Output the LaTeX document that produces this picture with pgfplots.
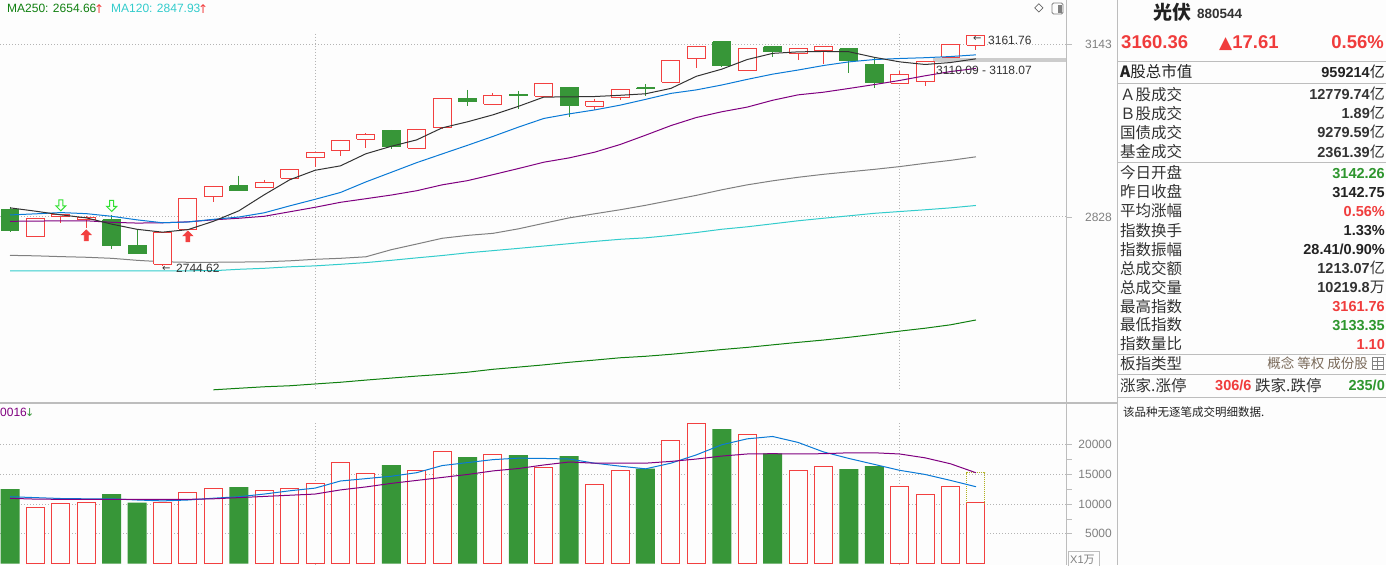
\documentclass[border=0pt]{standalone}
\usepackage{fontspec}
\setmainfont{Liberation Sans}
\newfontfamily\cjk{Noto Sans CJK SC}
\newfontfamily\dvs{DejaVu Sans}
\usepackage{pgfplots}
\pgfplotsset{compat=1.18}

\definecolor{bg}{HTML}{FDFDFD}
\definecolor{upc}{HTML}{F24040}
\definecolor{dnc}{HTML}{379638}
\definecolor{ma5}{HTML}{333333}
\definecolor{ma10}{HTML}{0A7AD6}
\definecolor{ma20}{HTML}{800080}
\definecolor{ma60}{HTML}{808080}
\definecolor{ma120}{HTML}{33CCCC}
\definecolor{ma250}{HTML}{108010}
\definecolor{gridc}{HTML}{B4B4B4}
\definecolor{framec}{HTML}{BDBDBD}
\definecolor{txt}{HTML}{333333}
\definecolor{txtb}{HTML}{222222}
\definecolor{valgreen}{HTML}{2E962E}
\definecolor{valred}{HTML}{F03C3C}
\definecolor{arrowgreen}{HTML}{33E033}
\definecolor{tagc}{HTML}{7A6A5A}
\definecolor{olivec}{HTML}{B0B020}

\pgfdeclareplotmark{upblock}{%
 \pgfpathmoveto{\pgfqpoint{0pt}{5.5pt}}\pgfpathlineto{\pgfqpoint{5pt}{0.5pt}}%
 \pgfpathlineto{\pgfqpoint{2pt}{0.5pt}}\pgfpathlineto{\pgfqpoint{2pt}{-5.5pt}}%
 \pgfpathlineto{\pgfqpoint{-2pt}{-5.5pt}}\pgfpathlineto{\pgfqpoint{-2pt}{0.5pt}}%
 \pgfpathlineto{\pgfqpoint{-5pt}{0.5pt}}\pgfpathclose\pgfusepathqfillstroke}
\pgfdeclareplotmark{downblock}{%
 \pgfpathmoveto{\pgfqpoint{0pt}{-5.5pt}}\pgfpathlineto{\pgfqpoint{5pt}{-0.5pt}}%
 \pgfpathlineto{\pgfqpoint{2pt}{-0.5pt}}\pgfpathlineto{\pgfqpoint{2pt}{5.5pt}}%
 \pgfpathlineto{\pgfqpoint{-2pt}{5.5pt}}\pgfpathlineto{\pgfqpoint{-2pt}{-0.5pt}}%
 \pgfpathlineto{\pgfqpoint{-5pt}{-0.5pt}}\pgfpathclose\pgfusepathqfillstroke}

\newcommand\fs[1]{\fontsize{#1}{#1}\selectfont}
\newcommand\lab[2]{\node[anchor=base west,inner sep=0pt,text=txt,font=\fs{15.5}\cjk] at (1120pt,-#1pt) {#2};}
\newcommand\val[3]{\node[anchor=base east,inner sep=0pt,text=#3,font=\fs{14.5}\bfseries] at (1385pt,-#1pt) {#2};}
\newcommand\yi{{\cjk\mdseries\fs{15}亿}}
\newcommand\wan{{\cjk\mdseries\fs{15}万}}

\begin{document}
\begin{tikzpicture}
\path[use as bounding box, fill=bg] (0pt,0pt) rectangle (1386pt,-565pt);

% ---------------- main price panel ----------------
\begin{axis}[
  at={(0pt,0pt)}, anchor=north west, scale only axis,
  width=1066pt, height=400pt,
  xmin=-0.3934, xmax=41.542,
  ymode=log, ymin=2527.7, ymax=3231.0,
  axis line style={draw=none},
  xtick=\empty,
  ytick={2828,3143}, yticklabels={2828,3143},
  scaled y ticks=false, ytick scale label code/.code={},
  ytick pos=right, yticklabel pos=right,
  tick align=outside, major tick length=6pt,
  ytick style={framec, line width=0.8pt},
  yticklabel style={anchor=east, inner sep=0pt, xshift=40pt, text=ma60, font=\fs{12}},
  ymajorgrids, major grid style={gridc, line width=1pt, dash pattern=on 1pt off 2pt},
]
% price range band
\addplot[fill=gray!40, draw=none] coordinates {(36.3,3110.09)(41.6,3110.09)(41.6,3118.07)(36.3,3118.07)};
% period separators
\addplot[gridc, line width=1pt, dash pattern=on 1pt off 2pt] coordinates {(12,3164)(12,2546)};
\addplot[gridc, line width=1pt, dash pattern=on 1pt off 2pt] coordinates {(35,3164)(35,2546)};
% MA250
\addplot[ma250, line width=1pt] coordinates {(8,2543.3)(9,2545.7)(10,2548.0)(11,2549.6)(12,2552.4)(13,2555.1)(14,2558.5)(15,2561.7)(16,2564.8)(17,2567.6)(18,2570.9)(19,2575.5)(20,2579.0)(21,2582.6)(22,2586.6)(23,2590.1)(24,2593.8)(25,2596.2)(26,2599.3)(27,2603.0)(28,2606.9)(29,2610.4)(30,2614.5)(31,2618.4)(32,2622.2)(33,2626.6)(34,2631.4)(35,2636.6)(36,2641.3)(37,2646.8)(38,2654.66)};
% MA120
\addplot[ma120, line width=1pt] coordinates {(0,2736.0)(1,2736.0)(2,2736.0)(3,2736.0)(4,2736.0)(5,2736.0)(6,2736.0)(7,2736.0)(8,2736.2)(9,2738.5)(10,2740.2)(11,2742.7)(12,2744.4)(13,2746.9)(14,2749.8)(15,2753.7)(16,2757.9)(17,2761.8)(18,2766.4)(19,2770.1)(20,2774.0)(21,2777.9)(22,2782.0)(23,2785.8)(24,2789.4)(25,2792.0)(26,2796.2)(27,2801.1)(28,2806.6)(29,2810.9)(30,2816.1)(31,2821.3)(32,2825.6)(33,2829.9)(34,2834.3)(35,2837.4)(36,2840.4)(37,2843.8)(38,2847.93)};
% MA60
\addplot[ma60, line width=1pt] coordinates {(0,2762.1)(1,2761.3)(2,2760.0)(3,2758.8)(4,2757.1)(5,2753.7)(6,2751.2)(7,2750.3)(8,2750.3)(9,2750.7)(10,2751.2)(11,2752.8)(12,2755.4)(13,2757.1)(14,2759.6)(15,2771.7)(16,2781.4)(17,2791.1)(18,2796.2)(19,2799.7)(20,2807.4)(21,2816.9)(22,2826.4)(23,2833.4)(24,2840.4)(25,2848.2)(26,2857.0)(27,2865.7)(28,2875.4)(29,2884.3)(30,2891.4)(31,2897.6)(32,2902.9)(33,2907.3)(34,2911.8)(35,2916.8)(36,2922.6)(37,2927.9)(38,2934.2)};
% wicks
\addplot[upc, line width=1pt, unbounded coords=jump] coordinates {
(1,2826.3)(1,2794.0)(1,nan)(2,2833.9)(2,2817.3)(2,nan)(3,2829.9)(3,2809.6)(3,nan)
(6,2802.0)(6,2744.62)(6,nan)(7,2861.0)(7,2806.5)(7,nan)(8,2882.2)(8,2854.8)(8,nan)
(10,2893.1)(10,2880.0)(10,nan)(11,2912.5)(11,2895.8)(11,nan)(12,2943.0)(12,2916.8)(12,nan)
(13,2964.8)(13,2934.8)(13,nan)(14,2977.2)(14,2951.0)(14,nan)(16,2985.0)(16,2949.6)(16,nan)
(17,3042.2)(17,2985.1)(17,nan)(19,3051.8)(19,3030.5)(19,nan)(21,3070.3)(21,3045.3)(21,nan)
(23,3040.6)(23,3020.0)(23,nan)(24,3059.0)(24,3039.2)(24,nan)(26,3114.0)(26,3071.6)(26,nan)
(27,3141.0)(27,3098.4)(27,nan)(29,3137.0)(29,3094.3)(29,nan)(31,3137.0)(31,3113.6)(31,nan)
(32,3139.4)(32,3106.6)(32,nan)(35,3093.8)(35,3069.7)(35,nan)(36,3112.0)(36,3064.5)(36,nan)
(37,3143.0)(37,3119.0)(37,nan)(38,3161.76)(38,3133.35)};
\addplot[dnc, line width=1pt, unbounded coords=jump] coordinates {
(0,2845.6)(0,2802.2)(0,nan)(4,2831.6)(4,2772.6)(4,nan)(5,2806.9)(5,2765.5)(5,nan)
(9,2900.8)(9,2872.5)(9,nan)(15,2983.2)(15,2949.2)(15,nan)(18,3057.4)(18,3028.1)(18,nan)
(20,3055.5)(20,3022.5)(20,nan)(22,3062.8)(22,3007.7)(22,nan)(25,3068.1)(25,3045.6)(25,nan)
(28,3149.1)(28,3099.5)(28,nan)(30,3139.4)(30,3119.9)(30,nan)(33,3135.6)(33,3090.0)(33,nan)
(34,3117.4)(34,3060.6)};
% up (hollow red) bodies
\addplot[draw=upc, fill=bg, line width=1pt, unbounded coords=jump] coordinates {
(0.646,2794.2)(1.354,2794.2)(1.354,2825.9)(0.646,2825.9)(0.646,2794.2)(1,nan)
(1.646,2828.7)(2.354,2828.7)(2.354,2831.6)(1.646,2831.6)(1.646,2828.7)(2,nan)
(2.646,2823.5)(3.354,2823.5)(3.354,2827.6)(2.646,2827.6)(2.646,2823.5)(3,nan)
(5.646,2747.3)(6.354,2747.3)(6.354,2801.7)(5.646,2801.7)(5.646,2747.3)(6,nan)
(6.646,2806.9)(7.354,2806.9)(7.354,2860.8)(6.646,2860.8)(6.646,2806.9)(7,nan)
(7.646,2864.3)(8.354,2864.3)(8.354,2882.0)(7.646,2882.0)(7.646,2864.3)(8,nan)
(9.646,2880.2)(10.354,2880.2)(10.354,2887.8)(9.646,2887.8)(9.646,2880.2)(10,nan)
(10.646,2896.1)(11.354,2896.1)(11.354,2912.2)(10.646,2912.2)(10.646,2896.1)(11,nan)
(11.646,2933.7)(12.354,2933.7)(12.354,2942.7)(11.646,2942.7)(11.646,2933.7)(12,nan)
(12.646,2946.3)(13.354,2946.3)(13.354,2964.5)(12.646,2964.5)(12.646,2946.3)(13,nan)
(13.646,2966.3)(14.354,2966.3)(14.354,2975.4)(13.646,2975.4)(13.646,2966.3)(14,nan)
(15.646,2949.9)(16.354,2949.9)(16.354,2984.6)(15.646,2984.6)(15.646,2949.9)(16,nan)
(16.646,2988.2)(17.354,2988.2)(17.354,3041.9)(16.646,3041.9)(16.646,2988.2)(17,nan)
(18.646,3030.7)(19.354,3030.7)(19.354,3047.5)(18.646,3047.5)(18.646,3030.7)(19,nan)
(20.646,3045.6)(21.354,3045.6)(21.354,3070.0)(20.646,3070.0)(20.646,3045.6)(21,nan)
(22.646,3027.0)(23.354,3027.0)(23.354,3036.2)(22.646,3036.2)(22.646,3027.0)(23,nan)
(23.646,3043.7)(24.354,3043.7)(24.354,3058.7)(23.646,3058.7)(23.646,3043.7)(24,nan)
(25.646,3071.9)(26.354,3071.9)(26.354,3113.6)(25.646,3113.6)(25.646,3071.9)(26,nan)
(26.646,3117.4)(27.354,3117.4)(27.354,3140.5)(26.646,3140.5)(26.646,3117.4)(27,nan)
(28.646,3094.6)(29.354,3094.6)(29.354,3136.6)(28.646,3136.6)(28.646,3094.6)(29,nan)
(30.646,3127.0)(31.354,3127.0)(31.354,3136.6)(30.646,3136.6)(30.646,3127.0)(31,nan)
(31.646,3132.0)(32.354,3132.0)(32.354,3139.1)(31.646,3139.1)(31.646,3132.0)(32,nan)
(34.646,3070.0)(35.354,3070.0)(35.354,3087.0)(34.646,3087.0)(34.646,3070.0)(35,nan)
(35.646,3072.5)(36.354,3072.5)(36.354,3111.7)(35.646,3111.7)(35.646,3072.5)(36,nan)
(36.646,3119.3)(37.354,3119.3)(37.354,3142.75)(36.646,3142.75)(36.646,3119.3)(37,nan)
(37.646,3142.26)(38.354,3142.26)(38.354,3160.36)(37.646,3160.36)(37.646,3142.26)};
% down (filled green) bodies
\addplot[draw=dnc, fill=dnc, line width=1pt, unbounded coords=jump] coordinates {
(-0.354,2840.3)(0.354,2840.3)(0.354,2803.9)(-0.354,2803.9)(-0.354,2840.3)(0,nan)
(3.646,2822.9)(4.354,2822.9)(4.354,2778.8)(3.646,2778.8)(3.646,2822.9)(4,nan)
(4.646,2778.3)(5.354,2778.3)(5.354,2765.9)(4.646,2765.9)(4.646,2778.3)(5,nan)
(8.646,2882.5)(9.354,2882.5)(9.354,2874.2)(8.646,2874.2)(8.646,2882.5)(9,nan)
(14.646,2981.4)(15.354,2981.4)(15.354,2952.8)(14.646,2952.8)(14.646,2981.4)(15,nan)
(17.646,3041.9)(18.354,3041.9)(18.354,3035.5)(17.646,3035.5)(17.646,3041.9)(18,nan)
(19.646,3048.0)(20.354,3048.0)(20.354,3047.3)(19.646,3047.3)(19.646,3048.0)(20,nan)
(21.646,3062.5)(22.354,3062.5)(22.354,3028.1)(21.646,3028.1)(21.646,3062.5)(22,nan)
(24.646,3061.0)(25.354,3061.0)(25.354,3060.2)(24.646,3060.2)(24.646,3061.0)(25,nan)
(27.646,3148.8)(28.354,3148.8)(28.354,3103.3)(27.646,3103.3)(27.646,3148.8)(28,nan)
(29.646,3139.1)(30.354,3139.1)(30.354,3129.5)(29.646,3129.5)(29.646,3139.1)(30,nan)
(32.646,3135.3)(33.354,3135.3)(33.354,3112.3)(32.646,3112.3)(32.646,3135.3)(33,nan)
(33.646,3105.2)(34.354,3105.2)(34.354,3071.1)(33.646,3071.1)(33.646,3105.2)};
% MA20
\addplot[ma20, line width=1pt] coordinates {(0,2820.4)(1,2820.7)(2,2821.3)(3,2821.3)(4,2818.7)(5,2817.3)(6,2817.8)(7,2819.5)(8,2823.0)(9,2825.6)(10,2829.0)(11,2836.9)(12,2844.7)(13,2853.5)(14,2859.8)(15,2866.3)(16,2873.8)(17,2884.3)(18,2891.7)(19,2902.2)(20,2913.3)(21,2924.6)(22,2932.5)(23,2942.6)(24,2956.5)(25,2973.4)(26,2991.0)(27,3005.9)(28,3016.4)(29,3025.1)(30,3037.9)(31,3048.0)(32,3052.9)(33,3060.0)(34,3067.4)(35,3075.1)(36,3083.8)(37,3091.9)(38,3097.9)};
% MA10
\addplot[ma10, line width=1pt] coordinates {(0,2831.5)(1,2833.3)(2,2835.5)(3,2833.7)(4,2829.0)(5,2822.9)(6,2817.8)(7,2819.2)(8,2823.8)(9,2827.8)(10,2835.2)(11,2847.3)(12,2858.7)(13,2870.8)(14,2889.4)(15,2906.6)(16,2923.8)(17,2939.5)(18,2955.2)(19,2971.2)(20,2988.2)(21,3004.2)(22,3012.7)(23,3019.9)(24,3028.8)(25,3039.6)(26,3050.8)(27,3057.4)(28,3066.4)(29,3077.0)(30,3087.0)(31,3094.9)(32,3103.3)(33,3110.2)(34,3114.8)(35,3116.7)(36,3118.4)(37,3120.5)(38,3123.8)};
% MA5
\addplot[ma5, line width=1pt] coordinates {(0,2843.8)(1,2838.0)(2,2831.6)(3,2826.4)(4,2815.5)(5,2806.5)(6,2801.7)(7,2806.0)(8,2820.4)(9,2838.5)(10,2866.6)(11,2893.1)(12,2910.1)(13,2918.1)(14,2939.7)(15,2953.2)(16,2965.0)(17,2986.9)(18,2998.0)(19,3010.9)(20,3026.6)(21,3043.9)(22,3044.3)(23,3044.9)(24,3047.1)(25,3049.9)(26,3060.2)(27,3083.0)(28,3096.5)(29,3114.8)(30,3126.5)(31,3129.5)(32,3130.3)(33,3129.7)(34,3119.0)(35,3110.4)(36,3105.4)(37,3109.1)(38,3116.1)};
% signal arrows
\addplot[only marks, mark=upblock, mark options={draw=upc, fill=upc, line width=0.6pt}] coordinates {(3,2796.2)(7,2794.5)};
\addplot[only marks, mark=downblock, mark options={draw=arrowgreen, fill=bg, line width=1pt}] coordinates {(2,2848.2)(4,2847.3)};
\end{axis}

% ---------------- volume panel ----------------
\begin{axis}[
  at={(0pt,-405pt)}, anchor=north west, scale only axis,
  width=1066pt, height=160pt,
  xmin=-0.3934, xmax=41.542,
  ymin=-250, ymax=26700,
  axis line style={draw=none},
  xtick=\empty,
  ytick={5000,10000,15000,20000}, yticklabels={5000,10000,15000,20000},
  scaled y ticks=false,
  minor ytick={7500,12500,17500},
  ytick pos=right, yticklabel pos=right,
  tick align=outside, major tick length=6pt, minor tick length=6pt,
  ytick style={framec, line width=0.8pt},
  yticklabel style={anchor=east, inner sep=0pt, xshift=40pt, text=ma60, font=\fs{12}},
  ymajorgrids, major grid style={gridc, line width=1pt, dash pattern=on 1pt off 2pt},
]
\addplot[gridc, line width=1pt, dash pattern=on 1pt off 2pt] coordinates {(12,23650)(12,-250)};
\addplot[gridc, line width=1pt, dash pattern=on 1pt off 2pt] coordinates {(35,23650)(35,-250)};
\addplot[ybar, bar width=18pt, bar shift=0pt, draw=upc, fill=bg, line width=1pt] coordinates {
(1,9464)(2,10138)(3,10306)(6,10306)(7,11990)(8,12664)(10,12327)(11,12664)(12,13506)(13,17042)(14,15190)(16,15695)(17,18894)(19,18389)(21,16200)(23,13337)(24,15695)(26,20747)(27,23610)(29,21757)(31,15695)(32,16368)(35,13000)(36,11653)(37,13000)(38,10220)};
\addplot[ybar, bar width=19pt, bar shift=0pt, draw=none, fill=dnc] coordinates {
(0,12546)(4,11704)(5,10240)(9,12883)(15,16587)(18,17935)(20,18271)(22,18103)(25,15964)(28,22650)(30,18558)(33,15914)(34,16419)};
\addplot[olivec, line width=1pt, dash pattern=on 1pt off 1pt] coordinates {(37.646,10220)(37.646,15290)(38.354,15290)(38.354,10220)};
\addplot[ma10, line width=1pt] coordinates {(0,11250)(1,11100)(2,10950)(3,10900)(4,10900)(5,10700)(6,10550)(7,10700)(8,11000)(9,11250)(10,11700)(11,12250)(12,12700)(13,13900)(14,14300)(15,14700)(16,15300)(17,16500)(18,17000)(19,17500)(20,17750)(21,17700)(22,17600)(23,16900)(24,16400)(25,15950)(26,16900)(27,18300)(28,20000)(29,21000)(30,21400)(31,20400)(32,18800)(33,17700)(34,16700)(35,15700)(36,15000)(37,14000)(38,12933)};
\addplot[ma20, line width=1pt] coordinates {(0,10980)(1,10850)(2,10811)(3,10811)(4,10811)(5,10811)(6,10811)(7,10811)(8,10900)(9,11100)(10,11300)(11,11500)(12,11700)(13,12400)(14,12900)(15,13500)(16,14000)(17,14500)(18,15000)(19,15600)(20,16000)(21,16600)(22,17100)(23,16900)(24,16900)(25,16900)(26,17200)(27,17600)(28,18100)(29,18450)(30,18500)(31,18450)(32,18500)(33,18650)(34,18650)(35,18450)(36,17800)(37,16800)(38,15290)};
\end{axis}

% ---------------- frame lines ----------------
\draw[framec, line width=1.2pt] (0pt,-403pt) -- (1117pt,-403pt);
\draw[framec, line width=1pt] (1066.5pt,0pt) -- (1066.5pt,-565pt);
\draw[framec, line width=1pt] (1117.5pt,0pt) -- (1117.5pt,-565pt);
\foreach \yy in {61,83,162,354,374,397} \draw[framec, line width=1pt] (1117pt,-\yy pt) -- (1386pt,-\yy pt);

% ---------------- chart annotations ----------------
\node[anchor=base west, inner sep=0pt, text=ma250, font=\fs{12}] at (7pt,-12.5pt) {MA250: 2654.66};
\node[anchor=base west, inner sep=0pt, text=upc, font=\fs{12}\dvs] at (94pt,-13pt) {↑};
\node[anchor=base west, inner sep=0pt, text=ma120, font=\fs{12}] at (111pt,-12.5pt) {MA120: 2847.93};
\node[anchor=base west, inner sep=0pt, text=upc, font=\fs{12}\dvs] at (198pt,-13pt) {↑};
\node[anchor=center, inner sep=0pt, text=txt, font=\fs{12}\dvs] at (1039pt,-8.5pt) {◇};
\draw[ma60, rounded corners=1.5pt, line width=0.8pt] (1052pt,-3pt) rectangle (1063pt,-14pt);
\fill[ma60] (1058pt,-4.5pt) rectangle (1061.5pt,-12.5pt);

\node[anchor=base west, inner sep=0pt, text=txt, font=\fs{12}] at (988pt,-44pt) {3161.76};
\node[anchor=base west, inner sep=0pt, text=txt, font=\fs{10}\dvs] at (973pt,-41pt) {←};
\node[anchor=base west, inner sep=0pt, text=txt, font=\fs{12}] at (176pt,-272pt) {2744.62};
\node[anchor=base west, inner sep=0pt, text=txt, font=\fs{10}\dvs] at (162pt,-271pt) {←};
\node[anchor=base west, inner sep=0pt, text=txt, font=\fs{12}] at (936pt,-74.5pt) {3110.09 - 3118.07};

\node[anchor=base west, inner sep=0pt, text=ma20, font=\fs{12}] at (0pt,-416pt) {0016};
\node[anchor=base west, inner sep=0pt, text=dnc, font=\fs{11}\dvs] at (25pt,-416pt) {↓};
\draw[framec, line width=0.8pt] (1068pt,-566pt) -- (1068pt,-551pt) -- (1099pt,-551pt) -- (1099pt,-566pt);
\node[anchor=base west, inner sep=0pt, text=ma60, font=\fs{11}] at (1070pt,-563pt) {X1{\cjk 万}};

% ---------------- right info panel ----------------
\node[anchor=base west, inner sep=0pt, text=txtb, font=\fs{19}\cjk\bfseries] at (1153pt,-19pt) {光伏};
\node[anchor=base west, inner sep=0pt, text=txt, font=\fs{13.5}\bfseries] at (1197pt,-18.5pt) {880544};
\node[anchor=base west, inner sep=0pt, text=valred, font=\fs{18.5}\bfseries] at (1121pt,-48.5pt) {3160.36};
\node[anchor=base west, inner sep=0pt, text=valred, font=\fs{18.5}\bfseries] at (1219pt,-48.5pt) {{\dvs\fs{17}▲}17.61};
\node[anchor=base east, inner sep=0pt, text=valred, font=\fs{18.5}\bfseries] at (1384pt,-48.5pt) {0.56\%};

\node[anchor=base west,inner sep=0pt,text=txtb,font=\fs{15.5}\cjk] at (1120pt,-77.5pt) {{\bfseries A}股总市值};
\val{77}{959214\yi}{txtb}
\lab{100.3}{Ａ股成交}\val{99.8}{12779.74\yi}{txt}
\lab{119.3}{Ｂ股成交}\val{118.8}{1.89\yi}{txt}
\lab{138.3}{国债成交}\val{137.8}{9279.59\yi}{txt}
\lab{157.7}{基金成交}\val{157.2}{2361.39\yi}{txt}
\lab{178.7}{今日开盘}\val{178.2}{3142.26}{valgreen}
\lab{197.7}{昨日收盘}\val{197.2}{3142.75}{txtb}
\lab{216.7}{平均涨幅}\val{216.2}{0.56\%}{valred}
\lab{236}{指数换手}\val{235.5}{1.33\%}{txtb}
\lab{255}{指数振幅}\val{254.5}{28.41/0.90\%}{txtb}
\lab{274.3}{总成交额}\val{273.8}{1213.07\yi}{txt}
\lab{293.3}{总成交量}\val{292.8}{10219.8\wan}{txt}
\lab{312}{最高指数}\val{311.5}{3161.76}{valred}
\lab{330.7}{最低指数}\val{330.2}{3133.35}{valgreen}
\lab{349.7}{指数量比}\val{349.2}{1.10}{valred}
\lab{369.3}{板指类型}
\node[anchor=base east, inner sep=0pt, text=tagc, font=\fs{13.5}\cjk] at (1368pt,-368.5pt) {概念 等权 成份股};
\draw[ma60, line width=0.8pt] (1372pt,-357pt) rectangle (1383pt,-369pt);
\draw[ma60, line width=0.6pt] (1372pt,-361pt) -- (1383pt,-361pt) (1372pt,-365pt) -- (1383pt,-365pt) (1377.5pt,-357pt) -- (1377.5pt,-369pt);
\lab{391}{涨家.涨停}
\node[anchor=base west, inner sep=0pt, text=valred, font=\fs{14.5}\bfseries] at (1215pt,-390.5pt) {306/6};
\node[anchor=base west, inner sep=0pt, text=txt, font=\fs{15.5}\cjk] at (1255pt,-391pt) {跌家.跌停};
\val{390.5}{235/0}{valgreen}
\node[anchor=base west, inner sep=0pt, text=txtb, font=\fs{11.5}\cjk] at (1123pt,-416pt) {该品种无逐笔成交明细数据.};
\end{tikzpicture}
\end{document}
